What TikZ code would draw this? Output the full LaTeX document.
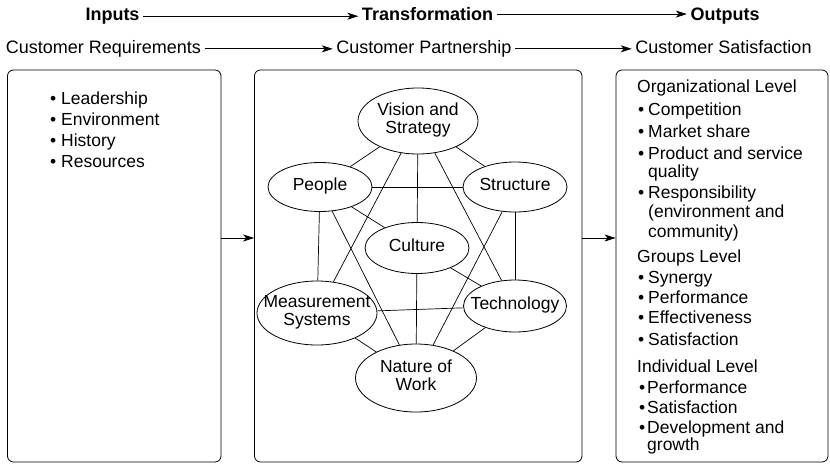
\documentclass[tikz,border=0pt]{standalone}
\usepackage{fontspec}
\setmainfont{Liberation Sans}
\usetikzlibrary{shapes, arrows.meta}
\tikzstyle{block} = [rectangle, rounded corners=6pt, draw=black, line width=0.8pt, inner sep=0pt]
\tikzstyle{factor} = [ellipse, draw=black, line width=0.8pt, inner sep=0pt, font=\fontsize{17.5}{18.5}\selectfont]
\tikzstyle{head} = [anchor=base, inner sep=3.5pt, font=\fontsize{18}{20}\selectfont]
\tikzstyle{headbold} = [head, font=\fontsize{18}{20}\selectfont\bfseries]
\tikzstyle{list} = [inner sep=0pt, align=left, anchor=north west]
\tikzstyle{link} = [draw, line width=0.7pt]
\tikzstyle{arrow} = [line width=0.8pt, -{Stealth[length=11pt, width=7pt, inset=3pt]}]
\newcommand{\fac}[1]{\makebox[0pt]{\raisebox{-2pt}{\begin{tabular}{@{}c@{}}#1\end{tabular}}}}
\newcommand{\itm}{\makebox[11pt][l]{\hspace{1pt}\textbullet}}
\newcommand{\itmb}{\makebox[10pt][l]{\hspace{2pt}\textbullet}}

\begin{document}
\begin{tikzpicture}[x=1pt, y=-1pt]
        \useasboundingbox (0,0) rectangle (830,464);
        % headings
        \node [headbold] (inputs) at (112.5,20.5) {Inputs};
        \node [headbold] (transf) at (427.5,20.5) {Transformation};
        \node [headbold] (outputs) at (725,20.5) {Outputs};
        \node [head] (custreq) at (103.5,53.5) {Customer Requirements};
        \node [head] (custpart) at (424,53.5) {Customer Partnership};
        \node [head] (custsat) at (723.5,53.5) {Customer Satisfaction};

        % blocks
        \node [block, minimum width=213.5pt, minimum height=392pt] (inbox) at (114.25,266) {};
        \node [block, minimum width=327.5pt, minimum height=392pt] (transbox) at (418.25,266) {};
        \node [block, minimum width=212pt, minimum height=392pt] (outbox) at (722,266) {};
        \coordinate (flow) at (0,238);

        % lists
        \node [list, font=\fontsize{17.5}{21.3}\selectfont] (inlist) at (50,91.2) {\textbullet\ Leadership\\
            \textbullet\ Environment\\
            \textbullet\ History\\
            \textbullet\ Resources};
        \node [list, font=\fontsize{17.5}{19}\selectfont] (outlist) at (637,79.2) {Organizational Level\\[4pt]
            \itm Competition\\[3pt]
            \itm Market share\\[3pt]
            \itm Product and service\\[-1pt]
            \hspace*{11pt}quality\\[2pt]
            \itm Responsibility\\
            \hspace*{11pt}(environment and\\[1pt]
            \hspace*{11pt}community)\\[6pt]
            Groups Level\\[2pt]
            \itm Synergy\\[1pt]
            \itm Performance\\[1pt]
            \itm Effectiveness\\[3pt]
            \itm Satisfaction\\[8pt]
            Individual Level\\[2pt]
            \itmb Performance\\[1pt]
            \itmb Satisfaction\\[1pt]
            \itmb Development and\\[-2pt]
            \hspace*{10pt}growth};

        % factors
        \node [factor, minimum width=120pt, minimum height=66pt] (vision) at (418,121) {\fac{Vision and\\Strategy}};
        \node [factor, minimum width=104pt, minimum height=49pt] (people) at (320,187) {\fac{People}};
        \node [factor, minimum width=104pt, minimum height=50pt] (structure) at (515,187) {\fac{Structure}};
        \node [factor, minimum width=104pt, minimum height=51pt] (culture) at (417,248) {\fac{Culture}};
        \node [factor, minimum width=120pt, minimum height=64pt] (measure) at (317,313) {\fac{Measurement\\Systems}};
        \node [factor, minimum width=103pt, minimum height=52pt] (tech) at (515,306) {\fac{Technology}};
        \node [factor, minimum width=121pt, minimum height=68pt] (nature) at (416,378) {\fac{Nature of\\Work}};

        % links
        \draw [link] (vision) -- (people);
        \draw [link] (vision) -- (structure);
        \draw [link] (vision) -- (culture);
        \draw [link] (vision) -- (measure);
        \draw [link] (vision) -- (tech);
        \draw [link] (people) -- (structure);
        \draw [link] (people) -- (culture);
        \draw [link] (people) -- (measure);
        \draw [link] (people) -- (nature);
        \draw [link] (structure) -- (tech);
        \draw [link] (structure) -- (nature);
        \draw [link] (culture) -- (tech);
        \draw [link] (culture) -- (nature);
        \draw [link] (measure) -- (tech);
        \draw [link] (measure) -- (nature);
        \draw [link] (tech) -- (nature);

        % arrows
        \draw [arrow] (inputs.east) -- (inputs.east -| transf.west);
        \draw [arrow] (transf.east) -- (transf.east -| outputs.west);
        \draw [arrow] (custreq.east) -- (custreq.east -| custpart.west);
        \draw [arrow] (custpart.east) -- (custpart.east -| custsat.west);
        \draw [arrow] (inbox.east |- flow) -- (transbox.west |- flow);
        \draw [arrow] (transbox.east |- flow) -- (outbox.west |- flow);
\end{tikzpicture}
\end{document}
